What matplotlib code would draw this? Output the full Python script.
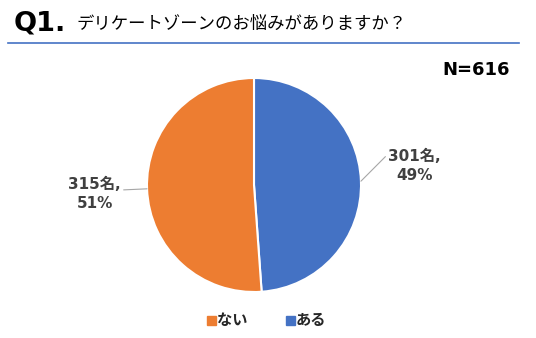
import numpy as np
import matplotlib
matplotlib.use('Agg')
import matplotlib.pyplot as plt

plt.rcParams['font.family'] = ['Noto Sans CJK JP', 'DejaVu Sans']

#Data
labels = ['ある', 'ない']
counts = [301, 315]
colors = ['#4472C4', '#ED7D31']
total = sum(counts)

W, H = 536, 338
fig = plt.figure(figsize=(W / 100, H / 100), dpi=100)

#Title and rule
fig.text(14 / W, 1 - 23 / H, 'Q1.', fontsize=19.5, fontweight='heavy', va='center', ha='left',
         family=['DejaVu Sans'])
fig.text(76 / W, 1 - 24 / H, 'デリケートゾーンのお悩みがありますか？', fontsize=12.5, va='center', ha='left')
fig.add_artist(plt.Line2D([8 / W, 519 / W], [1 - 43 / H, 1 - 43 / H], color='#4472C4', lw=1.2))
fig.text(510 / W, 1 - 70 / H, 'N=' + str(total), fontsize=13, fontweight='bold', va='center', ha='right',
         family=['DejaVu Sans'])

#Pie
cx, cy, r = 254, 185, 107
ax = fig.add_axes([(cx - r) / W, (H - cy - r) / H, 2 * r / W, 2 * r / H])
wedges, _ = ax.pie(counts, colors=colors, startangle=90, counterclock=False,
                   wedgeprops=dict(edgecolor='white', linewidth=1.5))
ax.set_xlim(-1, 1)
ax.set_ylim(-1, 1)
ax.set_aspect('equal')
ax.axis('off')

#Data labels with leader lines
label_pos = [(1.50, 0.18), (-1.49, -0.085)]
rel_pos = [(-0.03, 0.8), (1.02, 0.62)]
for w, c, pos, rp in zip(wedges, counts, label_pos, rel_pos):
    ang = np.deg2rad((w.theta1 + w.theta2) / 2)
    x0, y0 = np.cos(ang), np.sin(ang)
    txt = f'{c}名,\n{round(c / total * 100)}%'
    ax.annotate(txt, xy=(x0, y0), xytext=pos, ha='center', va='center',
                fontsize=11, fontweight='bold', color='#404040', linespacing=1.35,
                family=['DejaVu Sans', 'Noto Sans CJK JP'],
                arrowprops=dict(arrowstyle='-', color='#A6A6A6', lw=0.8,
                                shrinkA=0, shrinkB=0, relpos=rp),
                annotation_clip=False)

#Legend
for x, lab, col in [(207, 'ない', colors[1]), (286, 'ある', colors[0])]:
    fig.patches.append(plt.Rectangle((x / W, 1 - 325 / H), 9 / W, 9 / H, color=col,
                                     transform=fig.transFigure, figure=fig))
    fig.text((x + 10) / W, 1 - 320 / H, lab, fontsize=11, fontweight='bold', va='center', ha='left',
             color='#262626')

fig.savefig('out.png', dpi=100)
